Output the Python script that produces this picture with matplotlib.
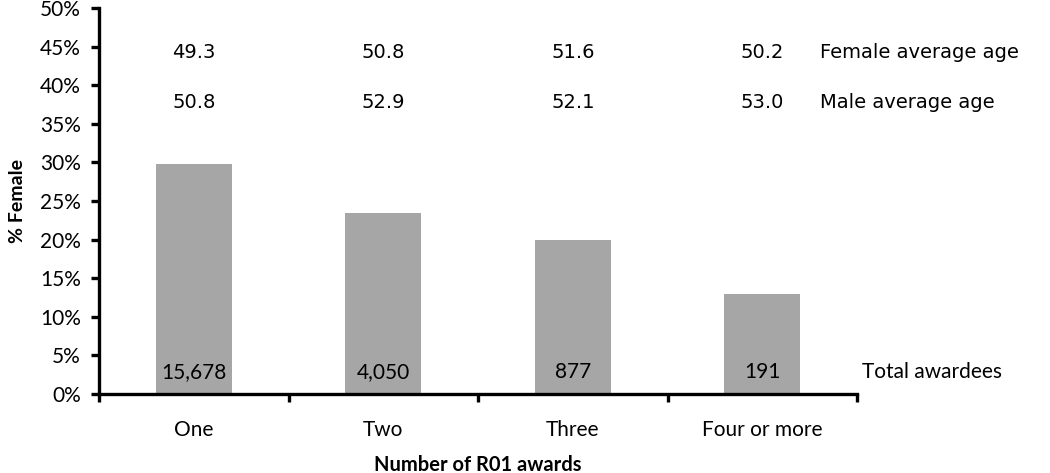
import numpy as np
import matplotlib.pyplot as plt
from matplotlib.ticker import PercentFormatter

# data
categories = ["One", "Two", "Three", "Four or more"]
pct_female = [29.8, 23.4, 19.9, 13.0]
total_awardees = ["15,678", "4,050", "877", "191"]
female_age = ["49.3", "50.8", "51.6", "50.2"]
male_age = ["50.8", "52.9", "52.1", "53.0"]

main_font = "Lato"
age_font = "DejaVu Sans"

fig = plt.figure(figsize=(10.5, 4.73), dpi=100)
ax = fig.add_axes([0.0943, 0.167, 0.722, 0.816])

x = np.arange(len(categories))
ax.bar(x, pct_female, width=0.4, color="#a6a6a6")

ax.set_xlim(-0.5, len(categories) - 0.5)
ax.set_ylim(0, 50)
ax.set_yticks(np.arange(0, 51, 5))
ax.yaxis.set_major_formatter(PercentFormatter(decimals=0))

# category labels in the middle, ticks on the boundaries
ax.set_xticks(np.arange(-0.5, len(categories), 1.0))
ax.set_xticklabels([])
ax.set_xticks(x, minor=True)
ax.set_xticklabels(categories, minor=True, fontfamily=main_font, fontsize=15)
ax.tick_params(axis="x", which="minor", length=0, pad=19)
ax.tick_params(axis="x", which="major", length=6, width=2.4, direction="out")
ax.tick_params(axis="y", length=6, width=2.4, direction="out", pad=7)
for lab in ax.get_yticklabels():
    lab.set_fontfamily(main_font)
    lab.set_fontsize(15)

for s in ["top", "right"]:
    ax.spines[s].set_visible(False)
for s in ["left", "bottom"]:
    ax.spines[s].set_linewidth(2.4)

ax.set_ylabel("% Female", fontfamily=main_font, fontsize=14, fontweight="bold", labelpad=10)
# x label sits right at the bottom edge, as in the original
fig.text(0.455, 0.005, "Number of R01 awards", ha="center", va="baseline",
         fontfamily=main_font, fontsize=14.5, fontweight="bold")

# annotations
for xi, n, fa, ma in zip(x, total_awardees, female_age, male_age):
    ax.text(xi, 2.85, n, ha="center", va="center", fontfamily=main_font, fontsize=15)
    ax.text(xi, 44.2, fa, ha="center", va="center", fontfamily=age_font, fontsize=14)
    ax.text(xi, 37.8, ma, ha="center", va="center", fontfamily=age_font, fontsize=14)

ax.text(3.305, 44.2, "Female average age", ha="left", va="center",
        fontfamily=age_font, fontsize=14, clip_on=False)
ax.text(3.305, 37.8, "Male average age", ha="left", va="center",
        fontfamily=age_font, fontsize=14, clip_on=False)
ax.text(3.526, 2.85, "Total awardees", ha="left", va="center",
        fontfamily=main_font, fontsize=15, clip_on=False)

fig.savefig("out.png", dpi=100)
